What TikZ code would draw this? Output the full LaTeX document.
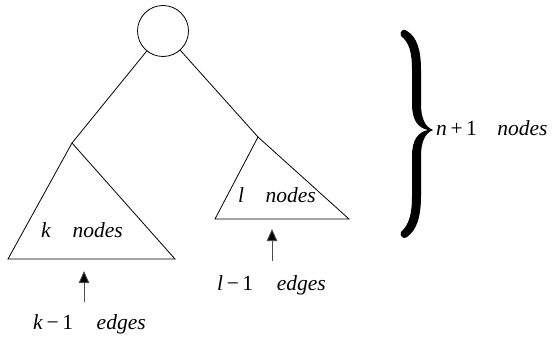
\documentclass[tikz,border=0pt]{standalone}
\usepackage{fontspec}
\setmainfont{Liberation Serif}[ItalicFont={Liberation Serif Italic}]
\usetikzlibrary{arrows.meta}
\begin{document}
\begin{tikzpicture}[x=1pt,y=-1pt,
  edge/.style={line width=0.8pt},
  lbl/.style={inner sep=0pt,anchor=base west,font=\fontsize{21.5}{25}\selectfont},
  uparrow/.style={line width=0.9pt,draw=black!70,-{Triangle[length=12pt,width=10.5pt,fill=black]}}]
\useasboundingbox (0,0) rectangle (554,337);
% root
\node[draw,circle,line width=0.8pt,minimum size=51pt,inner sep=0pt] (root) at (163,31) {};
% subtrees
\coordinate (la) at (72,143);
\coordinate (lbl) at (8,259);
\coordinate (lbr) at (175,259);
\coordinate (ra) at (258,137);
\coordinate (rbl) at (215,219);
\coordinate (rbr) at (349,219);
\draw[edge] (root) -- (la);
\draw[edge] (root) -- (ra);
\draw[edge] (la) -- (lbl) -- (lbr) -- cycle;
\draw[edge] (ra) -- (rbl) -- (rbr) -- cycle;
% labels
\node[lbl] (kn) at (41,237) {\textit{k}\hspace{1em}\textit{nodes}};
\node[lbl] (ln) at (238,202) {\textit{l}\hspace{1em}\textit{nodes}};
\node[lbl] (ke) at (33,329) {\textit{k}\,−\,1\hspace{1.1em}\textit{edges}};
\node[lbl] (le) at (217,290) {\textit{l}\,−\,1\hspace{1.1em}\textit{edges}};
\node[lbl] (nn) at (436,135) {\textit{n}\,+\,1\hspace{0.95em}\textit{nodes}};
% arrows
\coordinate (kt) at (84,302);
\coordinate (kh) at (84,271);
\coordinate (lt) at (272,261);
\coordinate (lh) at (272,229);
\draw[uparrow] (kt) -- (kh);
\draw[uparrow] (lt) -- (lh);
% brace
\fill (407,31) .. controls (417,37) and (421,50) .. (421,70) -- (421,104)
  .. controls (421,118) and (425,127) .. (433,130)
  .. controls (425,133) and (421,142) .. (421,156) -- (421,196)
  .. controls (421,216) and (417,230) .. (407,237)
  .. controls (404,240) and (399,236) .. (401,232)
  .. controls (409,225) and (412,214) .. (412,196) -- (412,156)
  .. controls (412,140) and (418,132) .. (428,130)
  .. controls (418,128) and (412,120) .. (412,104) -- (412,70)
  .. controls (412,52) and (409,42) .. (401,36)
  .. controls (399,31) and (404,28) .. (407,31) -- cycle;
\end{tikzpicture}
\end{document}
